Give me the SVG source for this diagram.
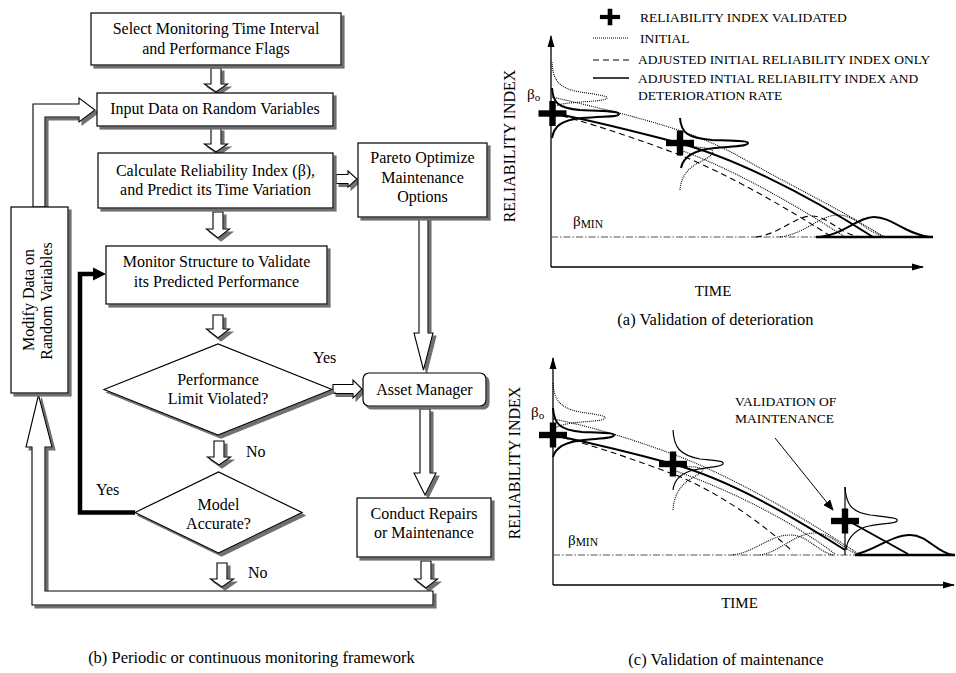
<svg xmlns="http://www.w3.org/2000/svg" width="956" height="673" viewBox="0 0 956 673">
<defs>
<filter id="sh" x="-10%" y="-10%" width="130%" height="130%">
<feDropShadow dx="3" dy="3" stdDeviation="0.5" flood-color="#707070" flood-opacity="1"/>
</filter>
<marker id="ah" markerWidth="12" markerHeight="8" refX="11" refY="4" orient="auto" markerUnits="userSpaceOnUse">
<path d="M0,0.5 L12,4 L0,7.5 Z" fill="#000"/>
</marker>
<marker id="ah2" markerWidth="11" markerHeight="9" refX="10" refY="4.5" orient="auto" markerUnits="userSpaceOnUse">
<path d="M0,0 L11,4.5 L0,9 Z" fill="#000"/>
</marker>
<g id="plus"><rect x="-14" y="-3.2" width="28" height="6.4"/><rect x="-3.2" y="-12.5" width="6.4" height="25"/></g>
</defs>
<style>
.box{fill:#fff;stroke:#000;stroke-width:1.2;filter:url(#sh)}
.arr{fill:#fff;stroke:#000;stroke-width:1.1;filter:url(#sh)}
.t{font-family:"Liberation Serif","Times New Roman",serif;font-size:16px;text-anchor:middle;fill:#000}
.l{font-family:"Liberation Serif","Times New Roman",serif;font-size:16px;fill:#000}
.cap{font-family:"Liberation Serif","Times New Roman",serif;font-size:16.5px;text-anchor:middle;fill:#000}
.lg{font-family:"Liberation Serif","Times New Roman",serif;font-size:13.5px;fill:#000}
.ax{fill:none;stroke:#000;stroke-width:1.3}
.sol{fill:none;stroke:#000;stroke-width:2}
.thin{fill:none;stroke:#000;stroke-width:1.2}
.dot{fill:none;stroke:#000;stroke-width:1.1;stroke-dasharray:1 1}
.dsh{fill:none;stroke:#000;stroke-width:1.1;stroke-dasharray:6 4}
.dd{fill:none;stroke:#555;stroke-width:1.2;stroke-dasharray:7 2 1.5 2}
</style>
<rect width="956" height="673" fill="#fff"/>

<!-- connectors -->
<g id="connectors">
<path class="arr" d="M211,68 H221 V84 H227.5 L216,92 L204.5,84 H211 Z"/>
<path class="arr" d="M211,128 H221 V144 H227.5 L216,152 L204.5,144 H211 Z"/>
<path class="arr" d="M213,212 H223 V229 H229.5 L218,238 L206.5,229 H213 Z"/>
<path class="arr" d="M213,315 H223 V329 H229.5 L218,338 L206.5,329 H213 Z"/>
<path class="arr" d="M214,441 H224 V457 H230.5 L219,465 L207.5,457 H214 Z"/>
<path class="arr" d="M217,563 H227 V579 H233.5 L222,587 L210.5,579 H217 Z"/>
<path class="arr" d="M421,561 H431 V579 H437.5 L426,588 L414.5,579 H421 Z"/>
<path class="arr" d="M336,174.5 H348 V171 L357,179 L348,187 V183.5 H336 Z"/>
<path class="arr" d="M333,384.5 H353 V380 L362,389 L353,398 V393.5 H333 Z"/>
<path class="arr" d="M419,217 H428 V333 H433 L423.5,370 L414,333 H419 Z"/>
<path class="arr" d="M420,409 H430 V473 H436 L425,495 L414,473 H420 Z"/>
<path class="arr" d="M33,207 V104 H79 V98 L95,110 L79,122 V117 H45 V207 Z"/>
<path class="arr" d="M433,591 H45 V447 H52 L38.5,395 L26,447 H32 V605 H433 Z"/>
<path d="M135,512.5 H80 V274 H94" fill="none" stroke="#000" stroke-width="4.5"/>
<path d="M93,267.5 L106,274 L93,280.5 Z" fill="#000"/>
</g>

<!-- nodes -->
<g id="n-select">
<rect class="box" x="91" y="13" width="250" height="52"/>
<text class="t" x="216" y="34">Select Monitoring Time Interval</text>
<text class="t" x="216" y="54">and Performance Flags</text>
</g>
<g id="n-input">
<rect class="box" x="97" y="93" width="236" height="33"/>
<text class="t" x="215" y="114">Input Data on Random Variables</text>
</g>
<g id="n-calc">
<rect class="box" x="98" y="153" width="235" height="55"/>
<text class="t" x="215.5" y="176">Calculate Reliability Index (β),</text>
<text class="t" x="215.5" y="195">and Predict its Time Variation</text>
</g>
<g id="n-pareto">
<rect class="box" x="358" y="143" width="129" height="74"/>
<text class="t" x="422.5" y="163">Pareto Optimize</text>
<text class="t" x="422.5" y="183">Maintenance</text>
<text class="t" x="422.5" y="202">Options</text>
</g>
<g id="n-monitor">
<rect class="box" x="106" y="246" width="221" height="58"/>
<text class="t" x="216.5" y="267">Monitor Structure to Validate</text>
<text class="t" x="216.5" y="287">its Predicted Performance</text>
</g>
<g id="n-modify">
<rect class="box" x="11" y="207" width="57" height="186"/>
<text class="t" transform="translate(34,300) rotate(-90)">Modify Data on</text>
<text class="t" transform="translate(52,301) rotate(-90)">Random Variables</text>
</g>
<g id="n-perf">
<path class="box" d="M104,389.5 L218,344 L332,389.5 L218,435 Z"/>
<text class="t" x="218" y="385">Performance</text>
<text class="t" x="218" y="404">Limit Violated?</text>
</g>
<g id="n-model">
<path class="box" d="M135,512.5 L218.5,472 L302,512.5 L218.5,553 Z"/>
<text class="t" x="218.5" y="510">Model</text>
<text class="t" x="218.5" y="529">Accurate?</text>
</g>
<g id="n-asset">
<rect class="box" x="363" y="373" width="123" height="33" rx="6"/>
<text class="t" x="424.5" y="395">Asset Manager</text>
</g>
<g id="n-repair">
<rect class="box" x="357" y="498" width="134" height="59"/>
<text class="t" x="424" y="519">Conduct Repairs</text>
<text class="t" x="424" y="538">or Maintenance</text>
</g>
<g id="labels">
<text class="l" x="313" y="363">Yes</text>
<text class="l" x="246" y="457">No</text>
<text class="l" x="96" y="495">Yes</text>
<text class="l" x="248" y="578">No</text>
<text class="cap" x="251.5" y="663">(b) Periodic or continuous monitoring framework</text>
</g>

<!-- panel (a) -->
<g id="legend">
<use href="#plus" transform="translate(610,17) scale(0.72,0.66)"/>
<text class="lg" x="640" y="22">RELIABILITY INDEX VALIDATED</text>
<line class="dot" x1="593" y1="38" x2="629" y2="38"/>
<text class="lg" x="640" y="43">INITIAL</text>
<line class="dsh" x1="593" y1="60" x2="629" y2="60"/>
<text class="lg" x="638" y="64">ADJUSTED INITIAL RELIABILITY INDEX ONLY</text>
<line x1="593" y1="78" x2="629" y2="78" stroke="#000" stroke-width="1.3"/>
<text class="lg" x="638" y="83">ADJUSTED INTIAL RELIABILITY INDEX AND</text>
<text class="lg" x="638" y="100">DETERIORATION RATE</text>
</g>
<g id="panel-a">
<line class="ax" x1="551" y1="267" x2="551" y2="36" marker-end="url(#ah)"/>
<line class="ax" x1="551" y1="267" x2="923" y2="267" marker-end="url(#ah)"/>
<text class="t" transform="translate(515,146) rotate(-90)">RELIABILITY INDEX</text>
<text class="t" x="713" y="296" style="font-size:15px">TIME</text>
<text class="l" x="527" y="99" style="font-size:15px">β<tspan font-size="11" dy="2">o</tspan></text>
<text class="l" x="573" y="226" style="font-size:15px">β<tspan font-size="11.5" dy="2">MIN</tspan></text>
<line class="dd" x1="551" y1="237" x2="816" y2="237"/>
<line x1="816" y1="237" x2="933" y2="237" stroke="#000" stroke-width="2.5"/>
<path class="dot" d="M552,97 C600,108 660,122 700,138 C730,150 745,160 760,168 C800,190 850,215 884,237"/>
<path class="dot" d="M680,150 C725,166 785,198 845,237"/>
<path class="dsh" d="M552,113 C600,126 640,140 680,155 C730,175 790,210 832,237"/>
<path class="sol" d="M552,113 C600,122 640,133 679,143 C730,157 800,190 873,237"/>
<path class="dot" d="M552,62 C553,80 558,88 580,92 C600,95 608,96 607,98 C606,101 590,101 570,103 C558,104 554,106 552,110"/>
<path class="sol" d="M552,88 C553,103 558,108 580,110 C605,111 619,111 619,114 C619,117 605,116 582,118 C560,120 554,127 552,138"/>
<path class="sol" d="M680,118 C681,133 688,138 712,140 C740,141 748,141 748,143 C748,146 738,146 715,148 C692,150 683,158 681,168"/>
<path class="dot" d="M680,190 C681,176 688,168 700,162 C712,156 716,152 710,149 C703,147 690,147 682,145"/>
<path class="dsh" d="M756,237 C780,234 795,216 812,216 C828,216 838,233 860,237"/>
<path class="dot" d="M780,237 C805,234 820,215 838,215 C856,215 866,233 887,237"/>
<path class="sol" d="M820,237 C845,234 858,217 874,217 C892,217 905,234 930,237"/>
<use href="#plus" transform="translate(552.5,113.5)"/>
<use href="#plus" transform="translate(680,143)"/>
<text class="cap" x="715.5" y="325">(a) Validation of deterioration</text>
</g>

<!-- panel (c) -->
<g id="panel-c">
<line class="ax" x1="553" y1="585" x2="553" y2="358" marker-end="url(#ah)"/>
<line class="ax" x1="553" y1="585" x2="954" y2="585" marker-end="url(#ah)"/>
<text class="t" transform="translate(520,463) rotate(-90)">RELIABILITY INDEX</text>
<text class="t" x="739.5" y="608" style="font-size:15px">TIME</text>
<text class="l" x="531" y="417" style="font-size:15px">β<tspan font-size="11" dy="2">o</tspan></text>
<text class="l" x="568" y="545" style="font-size:15px">β<tspan font-size="11.5" dy="1">MIN</tspan></text>
<text class="lg" x="735" y="406">VALIDATION OF</text>
<text class="lg" x="735" y="423">MAINTENANCE</text>
<line x1="775" y1="438" x2="833" y2="510" stroke="#000" stroke-width="1" marker-end="url(#ah2)"/>
<line class="dd" x1="553" y1="555" x2="855" y2="555"/>
<line x1="855" y1="555" x2="955" y2="555" stroke="#000" stroke-width="2.5"/>
<path class="dot" d="M553,419 C600,428 660,448 700,465 C760,492 820,528 857,553"/>
<path class="dot" d="M673,470 C730,490 790,520 835,554"/>
<path class="dsh" d="M553,435 C600,447 640,462 673,474 C710,488 760,520 793,552"/>
<path class="sol" d="M553,435 C600,445 640,455 673,464 C730,480 790,515 845,550"/>
<path class="sol" d="M845,519 L908,554"/>
<path class="dot" d="M553,383 C554,400 560,408 580,412 C600,415 606,416 605,418 C604,421 590,421 572,423 C560,425 555,427 553,430"/>
<path class="sol" d="M553,408 C554,424 560,430 582,432 C607,433 614,433 614,435 C614,438 605,438 584,440 C562,442 555,449 553,457"/>
<path class="thin" d="M673,430 C674,448 680,455 700,459 C720,461 724,461 723,464 C722,467 705,467 690,471 C678,475 674,482 673,490"/>
<path class="dot" d="M673,510 C674,495 680,485 692,478 C702,472 706,470 700,468 C693,466 683,467 676,466"/>
<path class="dot" d="M733,555 C755,552 770,535 790,535 C808,535 815,550 833,555"/>
<path class="dot" d="M760,555 C780,552 795,533 815,533 C833,533 842,550 860,555"/>
<line class="thin" x1="845" y1="487" x2="845" y2="555"/>
<path class="thin" d="M845,487 C846,505 852,512 870,515 C895,518 898,518 897,521 C896,524 880,523 865,527 C852,532 847,540 846,550"/>
<path class="sol" d="M857,554 C875,550 892,535 910,535 C928,535 935,552 953,555"/>
<use href="#plus" transform="translate(553,435)"/>
<use href="#plus" transform="translate(673,464)"/>
<use href="#plus" transform="translate(845,521)"/>
<text class="cap" x="726" y="665">(c) Validation of maintenance</text>
</g>
</svg>
